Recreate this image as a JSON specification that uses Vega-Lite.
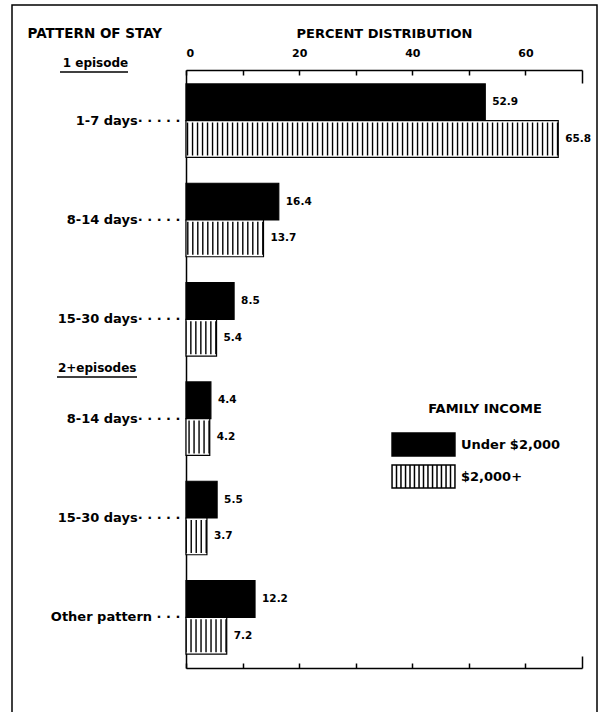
{
  "$schema": "https://vega.github.io/schema/vega-lite/v6.json",
  "width": 585,
  "height": 712,
  "autosize": {"type": "none"},
  "padding": {"left": 12, "top": 5, "right": 4, "bottom": 0},
  "background": "white",
  "datasets": {
    "stays": [
      {"episodes": "1 episode", "stay": "1-7 days", "pattern": "1 episode|1-7 days", "income": "Under $2,000", "percent": 52.9},
      {"episodes": "1 episode", "stay": "1-7 days", "pattern": "1 episode|1-7 days", "income": "$2,000+", "percent": 65.8},
      {"episodes": "1 episode", "stay": "8-14 days", "pattern": "1 episode|8-14 days", "income": "Under $2,000", "percent": 16.4},
      {"episodes": "1 episode", "stay": "8-14 days", "pattern": "1 episode|8-14 days", "income": "$2,000+", "percent": 13.7},
      {"episodes": "1 episode", "stay": "15-30 days", "pattern": "1 episode|15-30 days", "income": "Under $2,000", "percent": 8.5},
      {"episodes": "1 episode", "stay": "15-30 days", "pattern": "1 episode|15-30 days", "income": "$2,000+", "percent": 5.4},
      {"episodes": "2+episodes", "stay": "8-14 days", "pattern": "2+episodes|8-14 days", "income": "Under $2,000", "percent": 4.4},
      {"episodes": "2+episodes", "stay": "8-14 days", "pattern": "2+episodes|8-14 days", "income": "$2,000+", "percent": 4.2},
      {"episodes": "2+episodes", "stay": "15-30 days", "pattern": "2+episodes|15-30 days", "income": "Under $2,000", "percent": 5.5},
      {"episodes": "2+episodes", "stay": "15-30 days", "pattern": "2+episodes|15-30 days", "income": "$2,000+", "percent": 3.7},
      {"episodes": "2+episodes", "stay": "Other pattern", "pattern": "2+episodes|Other pattern", "income": "Under $2,000", "percent": 12.2},
      {"episodes": "2+episodes", "stay": "Other pattern", "pattern": "2+episodes|Other pattern", "income": "$2,000+", "percent": 7.2}
    ]
  },
  "data": {"name": "stays"},
  "encoding": {
    "y": {
      "field": "pattern",
      "type": "nominal",
      "scale": {
        "domain": ["1 episode|1-7 days", "1 episode|8-14 days", "1 episode|15-30 days", "2+episodes|8-14 days", "2+episodes|15-30 days", "2+episodes|Other pattern"],
        "range": [65, 663],
        "paddingInner": 0.26,
        "paddingOuter": 0.14
      },
      "axis": {
        "orient": "left",
        "offset": -174,
        "ticks": false,
        "domain": true,
        "domainColor": "black",
        "domainWidth": 1.5,
        "labelPadding": 6,
        "labelExpr": "split(datum.value, '|')[1] + (indexof(datum.value, 'Other') >= 0 ? ' · · ·' : '· · · · ·')",
        "labelFont": "DejaVu Sans",
        "labelFontSize": 13,
        "labelFontWeight": "bold",
        "labelColor": "black",
        "title": "PATTERN OF STAY",
        "titleFont": "DejaVu Sans",
        "titleFontSize": 13.5,
        "titleFontWeight": "bold",
        "titleColor": "black",
        "titleAngle": 0,
        "titleAlign": "left",
        "titleBaseline": "middle",
        "titleX": -159,
        "titleY": 28
      }
    }
  },
  "layer": [
    {
      "mark": {"type": "bar", "stroke": "black", "strokeWidth": 1.2},
      "encoding": {
        "x": {
          "field": "percent",
          "type": "quantitative",
          "scale": {"domain": [0, 70], "range": [174, 570]},
          "axis": {
            "orient": "top",
            "offset": -65,
            "values": [0, 10, 20, 30, 40, 50, 60],
            "labelExpr": "datum.value % 20 == 0 ? datum.label : ''",
            "tickSize": -5,
            "tickWidth": 1.5,
            "tickColor": "black",
            "domainColor": "black",
            "domainWidth": 1.5,
            "grid": false,
            "labelPadding": 17,
            "labelFont": "DejaVu Sans",
            "labelFontSize": 11,
            "labelFontWeight": "bold",
            "labelColor": "black",
            "title": "PERCENT DISTRIBUTION",
            "titleFont": "DejaVu Sans",
            "titleFontSize": 13,
            "titleFontWeight": "bold",
            "titleColor": "black",
            "titleY": -37,
            "titleBaseline": "middle"
          }
        },
        "yOffset": {"field": "income", "type": "nominal", "scale": {"domain": ["Under $2,000", "$2,000+"], "paddingInner": 0, "paddingOuter": 0}},
        "fill": {
          "field": "income",
          "type": "nominal",
          "scale": {"domain": ["Under $2,000", "$2,000+"], "range": ["black", "white"]},
          "legend": {
            "orient": "none",
            "legendX": 397,
            "legendY": 398,
            "padding": 0,
            "title": "FAMILY INCOME",
            "titleFont": "DejaVu Sans",
            "titleFontSize": 13,
            "titleFontWeight": "bold",
            "titleColor": "black",
            "titleAnchor": "middle",
            "titleAlign": "center",
            "titlePadding": 14,
            "labelFont": "DejaVu Sans",
            "labelFontSize": 13,
            "labelFontWeight": "bold",
            "labelColor": "black",
            "labelOffset": 23,
            "symbolType": "M-2.33,-0.85H2.33V0.85H-2.33Z M-2.0,-0.85V0.85M-1.67,-0.85V0.85M-1.33,-0.85V0.85M-1.0,-0.85V0.85M-0.67,-0.85V0.85M-0.33,-0.85V0.85M0,-0.85V0.85M0.33,-0.85V0.85M0.67,-0.85V0.85M1.0,-0.85V0.85M1.33,-0.85V0.85M1.67,-0.85V0.85M2.0,-0.85V0.85",
            "symbolSize": 729,
            "symbolStrokeColor": "black",
            "symbolStrokeWidth": 1.5,
            "rowPadding": 3
          }
        }
      }
    },
    {
      "transform": [{"filter": "datum.income == '$2,000+'"}],
      "mark": {"type": "rule", "color": "black", "strokeWidth": 33, "strokeDash": [1.4, 3.6], "strokeCap": "butt"},
      "encoding": {
        "x": {
          "field": "percent",
          "type": "quantitative",
          "axis": {
            "orient": "top",
            "offset": -65,
            "values": [70],
            "labels": false,
            "domain": false,
            "title": null,
            "grid": false,
            "tickSize": -13,
            "tickWidth": 1.5,
            "tickColor": "black"
          }
        },
        "x2": {"datum": 0},
        "yOffset": {"field": "income", "type": "nominal"}
      }
    },
    {
      "transform": [{"filter": "datum.income == 'Under $2,000'"}],
      "mark": {"type": "text", "align": "left", "baseline": "middle", "dx": 7, "font": "DejaVu Sans", "fontSize": 10.5, "fontWeight": "bold", "color": "black"},
      "encoding": {
        "x": {
          "field": "percent",
          "type": "quantitative",
          "axis": {
            "orient": "bottom",
            "offset": -49,
            "values": [0, 10, 20, 30, 40, 50, 60],
            "labels": false,
            "title": null,
            "grid": false,
            "tickSize": -5,
            "tickWidth": 1.5,
            "tickColor": "black",
            "domainColor": "black",
            "domainWidth": 1.5
          }
        },
        "yOffset": {"field": "income", "type": "nominal"},
        "text": {"field": "percent", "type": "quantitative", "format": ".1f"}
      }
    },
    {
      "transform": [{"filter": "datum.income == '$2,000+'"}],
      "mark": {"type": "text", "align": "left", "baseline": "middle", "dx": 7, "font": "DejaVu Sans", "fontSize": 10.5, "fontWeight": "bold", "color": "black"},
      "encoding": {
        "x": {
          "field": "percent",
          "type": "quantitative",
          "axis": {
            "orient": "bottom",
            "offset": -49,
            "values": [70],
            "labels": false,
            "domain": false,
            "title": null,
            "grid": false,
            "tickSize": -12,
            "tickWidth": 1.5,
            "tickColor": "black"
          }
        },
        "yOffset": {"field": "income", "type": "nominal"},
        "text": {"field": "percent", "type": "quantitative", "format": ".1f"}
      }
    },
    {
      "transform": [{"filter": "datum.stay == '1-7 days' && datum.income == 'Under $2,000'"}],
      "mark": {"type": "text", "align": "center", "baseline": "middle", "font": "DejaVu Sans", "fontSize": 12, "fontWeight": "bold", "color": "black"},
      "encoding": {
        "x": {"datum": -16, "type": "quantitative", "axis": null},
        "y": {"field": "pattern", "type": "nominal", "bandPosition": -0.284},
        "text": {"field": "episodes", "type": "nominal"}
      }
    },
    {
      "transform": [{"filter": "datum.stay == '1-7 days' && datum.income == 'Under $2,000'"}],
      "mark": {"type": "tick", "orient": "horizontal", "size": 68, "thickness": 1.5, "color": "black", "opacity": 1},
      "encoding": {
        "x": {"datum": -16.26, "type": "quantitative", "axis": null},
        "y": {"field": "pattern", "type": "nominal", "bandPosition": -0.162}
      }
    },
    {
      "transform": [{"filter": "datum.pattern == '2+episodes|8-14 days' && datum.income == 'Under $2,000'"}],
      "mark": {"type": "text", "align": "center", "baseline": "middle", "font": "DejaVu Sans", "fontSize": 12, "fontWeight": "bold", "color": "black"},
      "encoding": {
        "x": {"datum": -15.7, "type": "quantitative", "axis": null},
        "y": {"field": "pattern", "type": "nominal", "bandPosition": -0.189},
        "text": {"field": "episodes", "type": "nominal"}
      }
    },
    {
      "transform": [{"filter": "datum.pattern == '2+episodes|8-14 days' && datum.income == 'Under $2,000'"}],
      "mark": {"type": "tick", "orient": "horizontal", "size": 80, "thickness": 1.5, "color": "black", "opacity": 1},
      "encoding": {
        "x": {"datum": -15.73, "type": "quantitative", "axis": null},
        "y": {"field": "pattern", "type": "nominal", "bandPosition": -0.067}
      }
    }
  ],
  "resolve": {"axis": {"x": "independent"}},
  "config": {
    "view": {"stroke": "black", "strokeWidth": 1.5},
    "axis": {"grid": false}
  }
}
